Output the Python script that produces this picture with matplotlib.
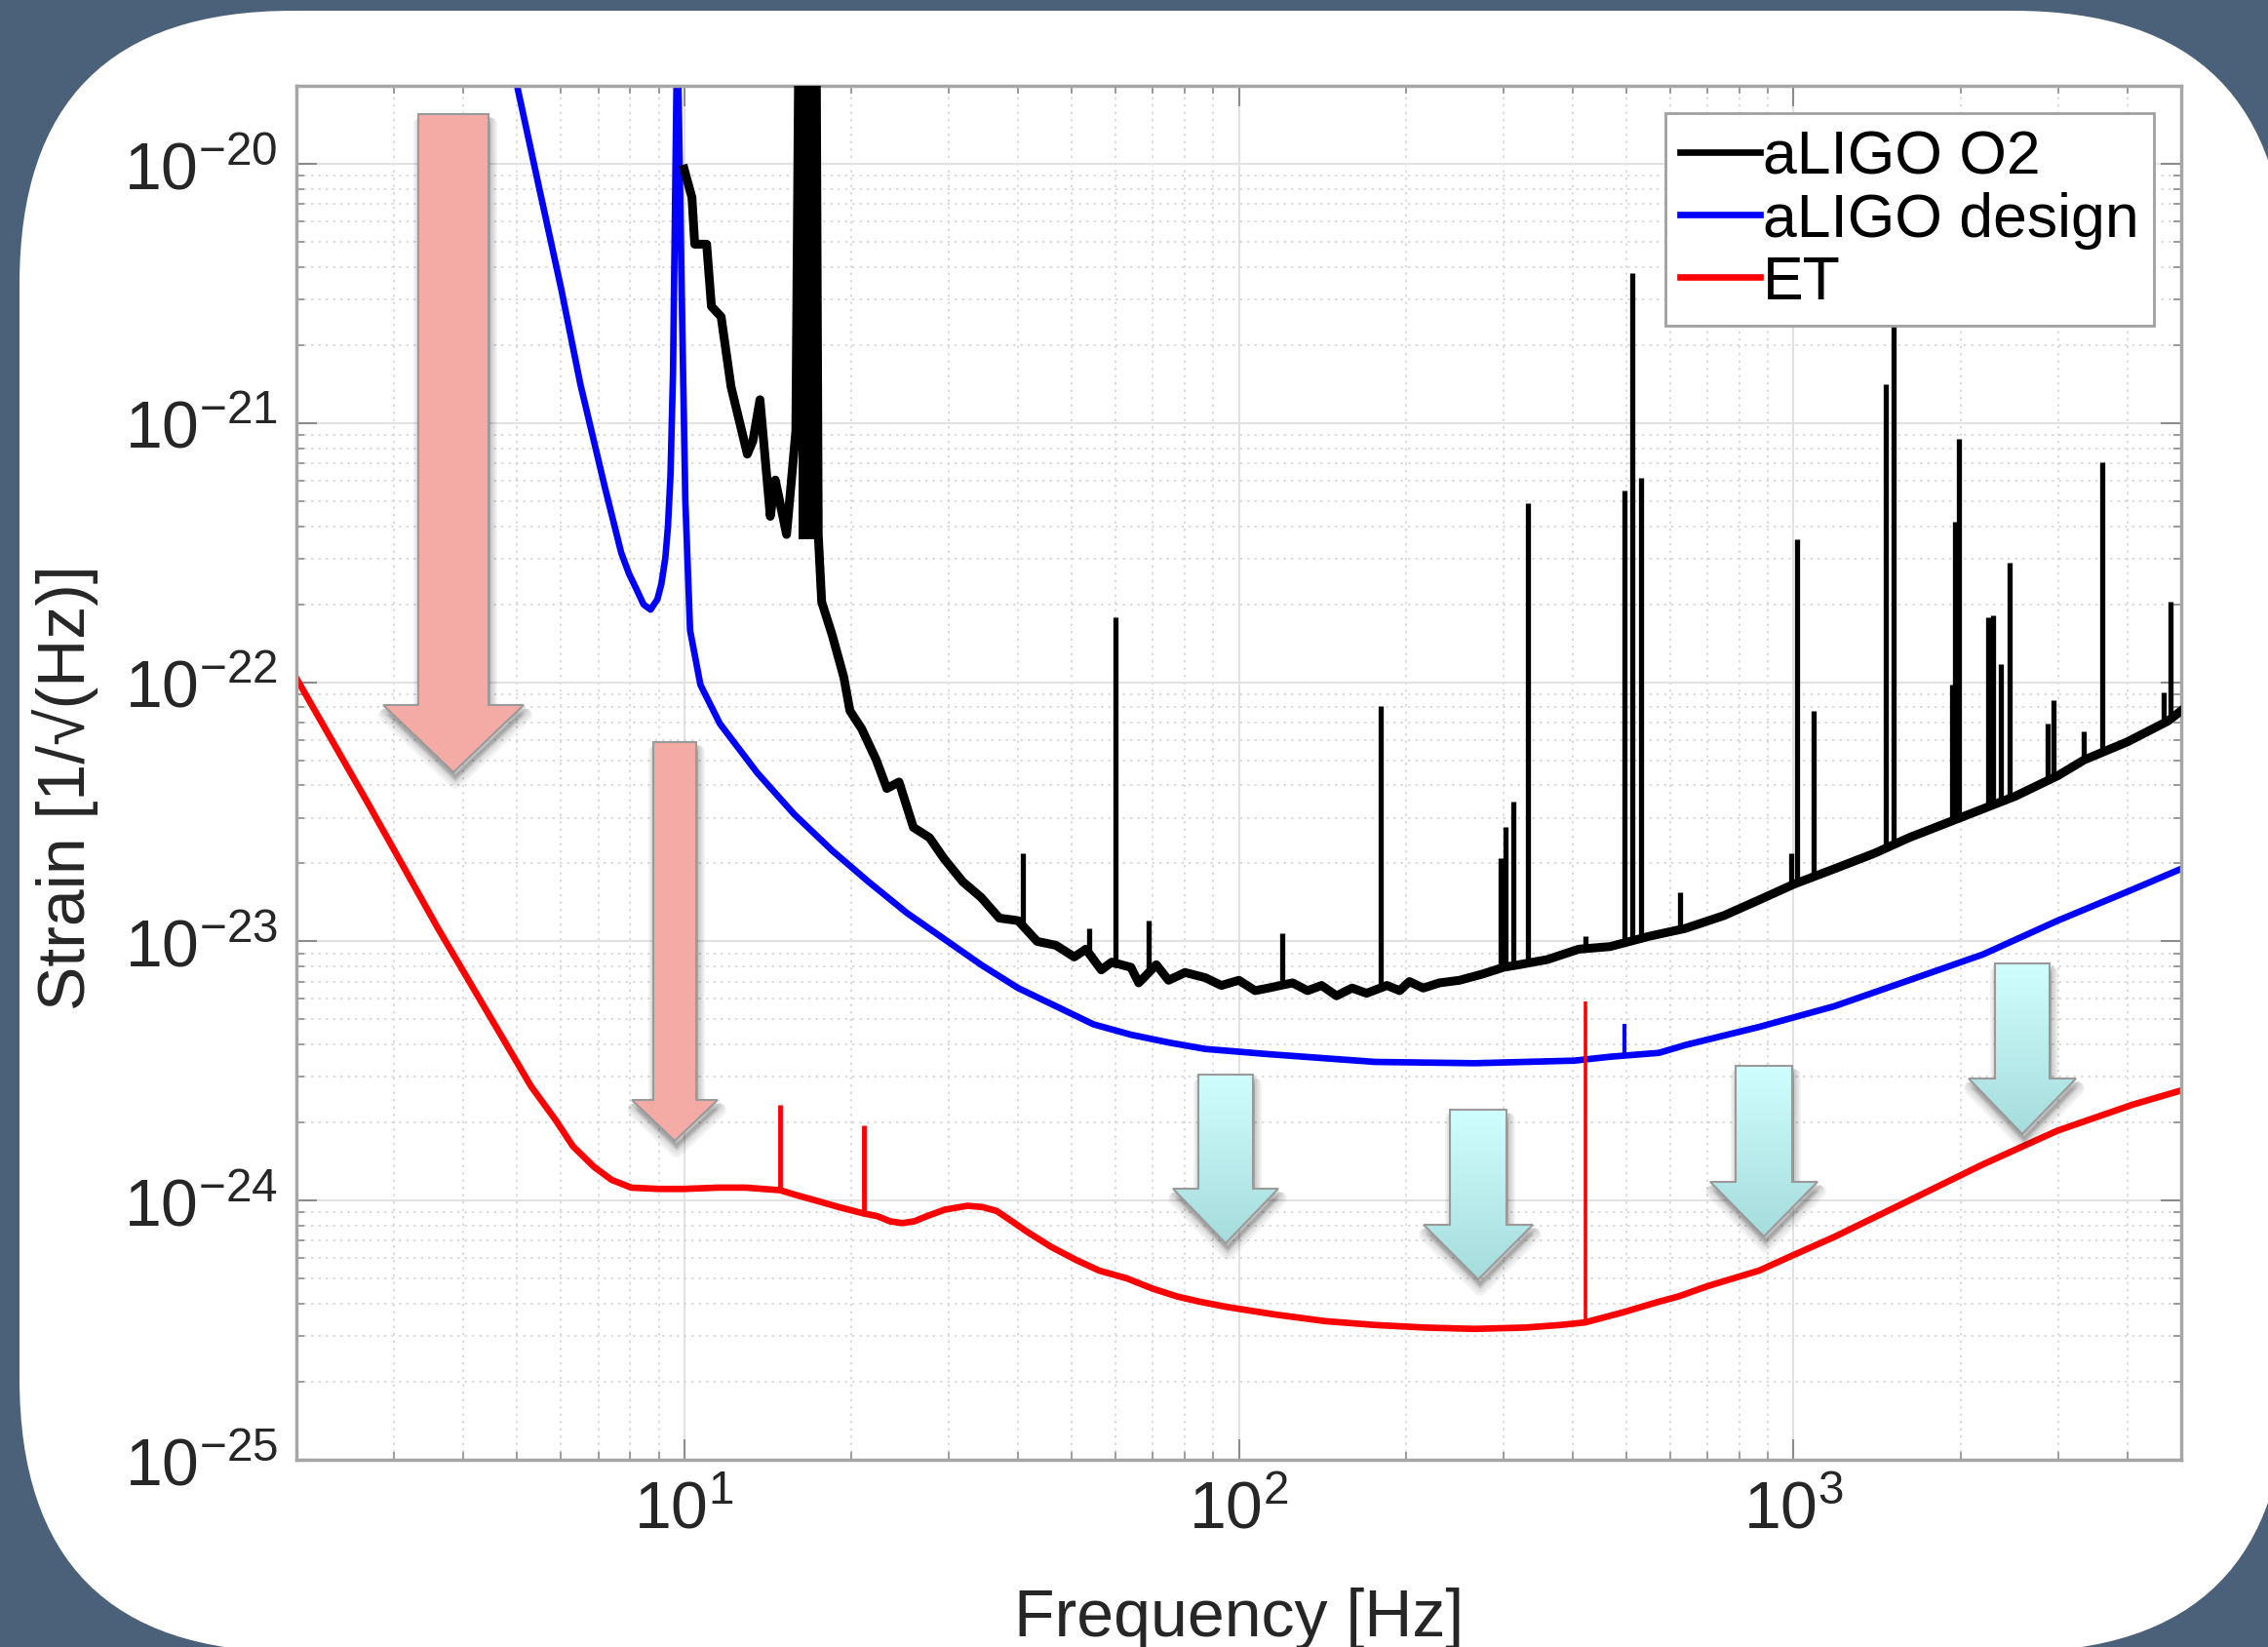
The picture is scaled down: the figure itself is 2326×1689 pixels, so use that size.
import numpy as np
import matplotlib
matplotlib.use('Agg')
import matplotlib.pyplot as plt
import matplotlib.transforms as mtransforms
from matplotlib.patches import FancyBboxPatch, Polygon
from matplotlib.lines import Line2D
from matplotlib.colors import LinearSegmentedColormap
from matplotlib.ticker import LogLocator, NullFormatter, FixedLocator

plt.rcParams['font.family'] = ['Liberation Sans', 'DejaVu Sans']
plt.rcParams['mathtext.fontset'] = 'custom'
plt.rcParams['mathtext.rm'] = 'Liberation Sans'
plt.rcParams['mathtext.it'] = 'Liberation Sans:italic'
plt.rcParams['mathtext.bf'] = 'Liberation Sans:bold'
plt.rcParams['mathtext.default'] = 'regular'
plt.rcParams['axes.unicode_minus'] = False

# ---- data (frequency in Hz, strain as log10) ----
# ET design sensitivity
et_f = [2.0, 2.68, 3.6, 4.82, 5.3, 5.87, 6.3, 6.88, 7.4, 8.03, 9.0, 10.0, 11.5,
        12.9, 14.9, 16.0, 17.3, 19.0, 21.1, 22.3, 23.5, 24.7, 26.0, 27.4, 29.5,
        32.4, 34.5, 36.6, 39.0, 41.5, 46, 51, 56, 62.8, 70, 77.4, 85, 94.9,
        116.6, 143, 176, 217, 266, 328, 380, 421, 495, 572, 620, 700, 867, 1000,
        1185, 1615, 2197, 2993, 4085, 5000]
et_logh = [-21.985, -22.46, -22.95, -23.41, -23.56, -23.69, -23.79, -23.87,
           -23.92, -23.95, -23.955, -23.955, -23.95, -23.95, -23.96, -23.98,
           -24.0, -24.025, -24.05, -24.06, -24.08, -24.087, -24.08, -24.06,
           -24.035, -24.02, -24.025, -24.04, -24.08, -24.12, -24.18, -24.23,
           -24.27, -24.30, -24.34, -24.37, -24.39, -24.41, -24.44, -24.465,
           -24.48, -24.49, -24.495, -24.49, -24.48, -24.47, -24.43, -24.39,
           -24.37, -24.33, -24.27, -24.21, -24.14, -24.0, -23.86, -23.73,
           -23.63, -23.575]
et_spike_f = [14.9, 21.1, 421]
et_spike_base = [-23.96, -24.05, -24.47]
et_spike_top = [-23.63, -23.71, -23.23]

# aLIGO design sensitivity
des_f = [4.85, 5.0, 5.5, 6.0, 6.5, 7.2, 7.7, 7.95, 8.2, 8.45, 8.7, 8.95, 9.1,
         9.25, 9.35, 9.45, 9.55, 9.7, 9.75, 9.9, 10.05, 10.25, 10.7, 11.6,
         13.55, 15.8, 18.5, 21.5, 25.2, 29.4, 34.3, 40, 46.8, 54.7, 63.9, 74.7,
         87, 113, 176, 266, 403, 467, 572, 638, 867, 1185, 1615, 2197, 2993,
         4085, 5000]
des_logh = [-19.6, -19.7, -20.11, -20.48, -20.85, -21.25, -21.5, -21.58,
            -21.64, -21.70, -21.72, -21.68, -21.62, -21.52, -21.4, -21.2,
            -20.8, -19.6, -19.6, -20.5, -21.3, -21.8, -22.01, -22.16, -22.35,
            -22.51, -22.65, -22.77, -22.89, -22.99, -23.09, -23.18, -23.25,
            -23.32, -23.36, -23.39, -23.415, -23.435, -23.465, -23.47, -23.46,
            -23.445, -23.43, -23.40, -23.33, -23.25, -23.15, -23.05, -22.92,
            -22.80, -22.72]
des_spike_f = [495]
des_spike_base = [-23.44]
des_spike_top = [-23.32]

# aLIGO O2 measured noise (broadband part)
o2_f = [10.0, 10.33, 10.45, 10.98, 11.2, 11.66, 12.15, 13.0, 13.3, 13.7, 14.3,
        14.6, 15.3, 15.9, 16.1, 17.3, 17.45, 17.7, 18.5, 19.4, 19.9, 20.9,
        22.2, 23.2, 24.4, 25.9, 27.7, 29.4, 31.8, 34.3, 37.0, 40.0, 43.3, 46.8,
        50.5, 53, 56.5, 59, 63.9, 66, 71, 74.7, 80, 87, 93, 100, 107, 113, 125,
        133, 141, 150, 160, 170, 185, 195, 203, 215, 230, 250, 276, 300, 320,
        360, 410, 467, 550, 638, 750, 867, 1000, 1185, 1400, 1615, 2070, 2510,
        3000, 3340, 4000, 4730, 5000]
o2_logh = [-20.02, -20.13, -20.31, -20.31, -20.55, -20.59, -20.86, -21.12,
           -21.07, -20.91, -21.36, -21.22, -21.43, -21.03, -19.5, -19.5, -21.43,
           -21.69, -21.82, -21.98, -22.11, -22.18, -22.30, -22.41, -22.385,
           -22.56, -22.60, -22.68, -22.77, -22.83, -22.91, -22.92, -23.0,
           -23.015, -23.06, -23.03, -23.11, -23.08, -23.10, -23.16, -23.09,
           -23.15, -23.12, -23.14, -23.17, -23.15, -23.19, -23.18, -23.16,
           -23.19, -23.17, -23.21, -23.18, -23.20, -23.17, -23.19, -23.155,
           -23.18, -23.16, -23.15, -23.125, -23.10, -23.09, -23.07, -23.03,
           -23.02, -22.98, -22.95, -22.90, -22.84, -22.78, -22.72, -22.66,
           -22.60, -22.51, -22.44, -22.36, -22.30, -22.23, -22.15, -22.11]
# wide calibration line near 16.6 Hz
o2_band_f = [16.7]
o2_band_base = [-21.45]
o2_band_top = [-19.5]
# aLIGO O2 narrow lines
o2_spike_f = [40.8, 53.8, 60.0, 68.9, 119.9, 180, 296, 303, 312, 332, 421, 495,
              512, 531, 625, 989, 1016, 1089, 1466, 1518, 1928, 1955, 1983,
              2243, 2288, 2364, 2452, 2877, 2940, 3340, 3600, 4640, 4780]
o2_spike_base = [-22.93, -23.05, -23.10, -23.12, -23.18, -23.18, -23.10,
                 -23.10, -23.09, -23.08, -23.03, -23.01, -23.0, -22.99,
                 -22.96, -22.79, -22.78, -22.76, -22.64, -22.63, -22.52,
                 -22.52, -22.52, -22.48, -22.47, -22.46, -22.45, -22.37,
                 -22.36, -22.30, -22.27, -22.16, -22.14]
o2_spike_top = [-22.66, -22.95, -21.75, -22.92, -22.97, -22.09, -22.68,
                -22.56, -22.46, -21.31, -22.98, -21.26, -20.42, -21.21,
                -22.81, -22.66, -21.45, -22.11, -20.85, -20.60, -22.01,
                -21.38, -21.06, -21.75, -21.74, -21.93, -21.54, -22.16,
                -22.07, -22.19, -21.15, -22.04, -21.69]

labels = ['aLIGO O2', 'aLIGO design', 'ET']
colors = ['#000000', '#0000ff', '#ff0000']

W, H = 2326, 1690
fig = plt.figure(figsize=(W / 100, H / 100), dpi=100, facecolor='#4b6079')
px = mtransforms.Affine2D().scale(1 / W, 1 / H) + fig.transFigure

# white rounded card
card = FancyBboxPatch((20, -5), 2325, 1683,
                      boxstyle='round,pad=0,rounding_size=280',
                      transform=px, fc='white', ec='none', zorder=-10)
fig.add_artist(card)

ax = fig.add_axes([304 / W, 192 / H, 1933 / W, 1409 / H])
ax.set_facecolor('white')
ax.set_xscale('log')
ax.set_yscale('log')


def pw(v):
    return 10 ** np.array(v)


ax.plot(o2_f, pw(o2_logh), color=colors[0], lw=6.5, zorder=3,
        solid_joinstyle='round')
ax.vlines(o2_band_f, pw(o2_band_base), pw(o2_band_top), color=colors[0],
          lw=13, zorder=3)
ax.vlines(o2_spike_f, pw(o2_spike_base), pw(o2_spike_top), color=colors[0],
          lw=3.8, zorder=3)
ax.plot(des_f, pw(des_logh), color=colors[1], lw=4.8, zorder=2)
ax.vlines(des_spike_f, pw(des_spike_base), pw(des_spike_top), color=colors[1],
          lw=3, zorder=2)
ax.plot(et_f, pw(et_logh), color=colors[2], lw=4.8, zorder=2)
ax.vlines(et_spike_f[:2], pw(et_spike_base[:2]), pw(et_spike_top[:2]),
          color=colors[2], lw=3.5, zorder=2)
ax.vlines(et_spike_f[2:], pw(et_spike_base[2:]), pw(et_spike_top[2:]),
          color=colors[2], lw=2.6, zorder=2)

ax.set_xlim(2, 5000)
ax.set_ylim(1e-25, 2e-20)

ax.xaxis.set_major_locator(FixedLocator([10, 100, 1000]))
ax.yaxis.set_major_locator(FixedLocator([1e-25, 1e-24, 1e-23, 1e-22, 1e-21, 1e-20]))
for axis in (ax.xaxis, ax.yaxis):
    axis.set_minor_locator(LogLocator(base=10, subs=np.arange(2, 10), numticks=30))
    axis.set_minor_formatter(NullFormatter())

ax.set_axisbelow(True)
ax.grid(True, which='major', color='#e2e2e2', lw=1.5, ls='-')
ax.grid(True, which='minor', color='#d6d6d6', lw=1.2, ls=(0, (1.5, 3)))
ax.tick_params(which='both', direction='in', top=True, right=True,
               color='#8c8c8c', labelcolor='#262626')
ax.tick_params(which='major', length=15, width=1.5, labelsize=49)
ax.tick_params(which='minor', length=6, width=1.2)
ax.tick_params(axis='y', pad=14)
ax.tick_params(axis='x', pad=14)
for sp in ax.spines.values():
    sp.set_color('#a6a6a6')
    sp.set_linewidth(2.5)

ax.set_xlabel('Frequency [Hz]', fontsize=49, color='#262626', va='top')
ax.xaxis.set_label_coords(0.5, -0.092)
ax.set_ylabel('Strain [1/\u221a(Hz)]', fontsize=49, color='#262626', va='center')
ax.yaxis.set_label_coords(-0.1226, 0.49)

handles = [Line2D([], [], color=c, lw=4.8) for c in colors]
leg = ax.legend(handles, labels, loc='upper right', fontsize=45, fancybox=False,
                framealpha=1, edgecolor='#a0a0a0', borderpad=0.25,
                handlelength=1.3, handletextpad=0.05, labelspacing=0.08,
                borderaxespad=0.45)
leg.get_frame().set_linewidth(2)

# ---- decorative arrows (figure pixels, measured from top) ----
ov = fig.add_axes([0, 0, 1, 1], zorder=5)
ov.set_facecolor('none')
ov.axis('off')

pink_arrows = [(465, 118, 36, 72, 724, 793), (692, 762, 22, 44, 1129, 1171)]
cyan_arrows = [(1257, 1103, 28, 54, 1220, 1276), (1516, 1139, 29, 56, 1257, 1313),
               (1809, 1094, 29, 55, 1213, 1269), (2074, 989, 28, 55, 1107, 1164)]
cyan_cmap = LinearSegmentedColormap.from_list('cy', ['#d0fefe', '#a6dcdc'])


def arrow_verts(cx, top, shw, hhw, hy, tip, dx=0, dy=0):
    pts = [(cx - shw, top), (cx + shw, top), (cx + shw, hy), (cx + hhw, hy),
           (cx, tip), (cx - hhw, hy), (cx - shw, hy)]
    return [(x + dx, H - (y + dy)) for x, y in pts]


def draw_arrow(spec, face=None, cmap=None):
    cx, top, shw, hhw, hy, tip = spec
    for k in range(1, 5):
        ov.add_patch(Polygon(arrow_verts(*spec, dx=2, dy=4 + 1.5 * k), closed=True,
                             fc=(0, 0, 0, 0.05), ec=(0, 0, 0, 0.05), lw=2.5 * k,
                             joinstyle='round', zorder=1))
    poly = Polygon(arrow_verts(*spec), closed=True,
                   fc=face if face else 'none', ec='#9a9a9a', lw=1.5, zorder=3)
    ov.add_patch(poly)
    if cmap is not None:
        bg = Polygon(arrow_verts(*spec), closed=True, fc='white', ec='none', zorder=2)
        ov.add_patch(bg)
        im = ov.imshow(np.linspace(0, 1, 256).reshape(-1, 1), cmap=cmap,
                       extent=[cx - hhw, cx + hhw, H - tip, H - top],
                       origin='upper', aspect='auto', zorder=2.5)
        im.set_clip_path(bg)


for spec in pink_arrows:
    draw_arrow(spec, face='#f4aba6')
for spec in cyan_arrows:
    draw_arrow(spec, cmap=cyan_cmap)

ov.set_xlim(0, W)
ov.set_ylim(0, H)

fig.savefig('out.png', dpi=100, facecolor=fig.get_facecolor())
